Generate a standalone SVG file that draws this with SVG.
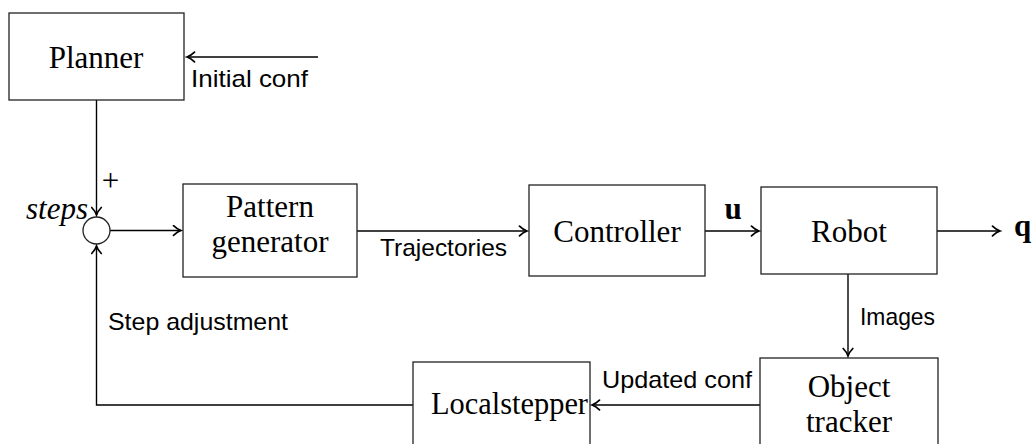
<svg xmlns="http://www.w3.org/2000/svg" width="1032" height="444" viewBox="0 0 1032 444">
<style>
.box{fill:#fff;stroke:#222;stroke-width:1.3}
.ln{fill:none;stroke:#000;stroke-width:1.4}
.rm{font-family:"Liberation Serif","DejaVu Serif",serif;font-size:31px;fill:#000}
.sf{font-family:"Liberation Sans","DejaVu Sans",sans-serif;font-size:24px;fill:#000}
</style>
<defs>
<marker id="arr" viewBox="-10 -6 12 12" refX="0" refY="0" markerWidth="12" markerHeight="12" orient="auto" markerUnits="userSpaceOnUse">
<path d="M-7.5,-4.8 C-4.8,-2.2 -2,-0.6 0,0 C-2,0.6 -4.8,2.2 -7.5,4.8" fill="none" stroke="#000" stroke-width="1.7" stroke-linecap="round"/>
</marker>
</defs>
<g id="connectors">
<path class="ln" d="M318,57 L187,57" marker-end="url(#arr)"/>
<path class="ln" d="M96.5,100 L96.5,215" marker-end="url(#arr)"/>
<path class="ln" d="M110,230.5 L181,230.5" marker-end="url(#arr)"/>
<path class="ln" d="M357,231 L527,231" marker-end="url(#arr)"/>
<path class="ln" d="M705,231 L759,231" marker-end="url(#arr)"/>
<path class="ln" d="M937,231 L1000,231" marker-end="url(#arr)"/>
<path class="ln" d="M848,274 L848,356" marker-end="url(#arr)"/>
<path class="ln" d="M760,405 L592,405" marker-end="url(#arr)"/>
<path class="ln" d="M413,405 L96.5,405 L96.5,246" marker-end="url(#arr)"/>
<text class="sf" x="191" y="87" textLength="117" lengthAdjust="spacingAndGlyphs">Initial conf</text>
<text class="rm" x="110.5" y="191" text-anchor="middle" font-size="36">+</text>
<text class="rm" x="26" y="219" font-style="italic" font-size="28">steps</text>
<text class="sf" x="380" y="256" textLength="127" lengthAdjust="spacingAndGlyphs">Trajectories</text>
<text class="rm" x="733" y="219" text-anchor="middle" font-weight="bold" font-size="29">u</text>
<text class="rm" x="1014" y="236" font-weight="bold" font-size="29">q</text>
<text class="sf" x="860" y="325" textLength="75" lengthAdjust="spacingAndGlyphs">Images</text>
<text class="sf" x="108" y="330" textLength="180" lengthAdjust="spacingAndGlyphs">Step adjustment</text>
<text class="sf" x="602" y="388" textLength="150" lengthAdjust="spacingAndGlyphs">Updated conf</text>
</g>
<g id="planner">
<rect class="box" x="9" y="13" width="175" height="87"/>
<text class="rm" x="96" y="68" text-anchor="middle">Planner</text>
</g>
<g id="sum">
<circle cx="96.5" cy="230.5" r="13.5" fill="#fff" stroke="#222" stroke-width="1.3"/>
</g>
<g id="pattern">
<rect class="box" x="183" y="184" width="174" height="93"/>
<text class="rm" x="270" y="217" text-anchor="middle">Pattern</text>
<text class="rm" x="270" y="252" text-anchor="middle">generator</text>
</g>
<g id="controller">
<rect class="box" x="529" y="185" width="176" height="91"/>
<text class="rm" x="617" y="242" text-anchor="middle">Controller</text>
</g>
<g id="robot">
<rect class="box" x="761" y="187" width="176" height="87"/>
<text class="rm" x="849" y="242" text-anchor="middle">Robot</text>
</g>
<g id="tracker">
<rect class="box" x="760" y="358" width="178" height="100"/>
<text class="rm" x="849" y="397" text-anchor="middle">Object</text>
<text class="rm" x="849" y="432" text-anchor="middle">tracker</text>
</g>
<g id="localstepper">
<rect class="box" x="413" y="362" width="177" height="100"/>
<text class="rm" x="431" y="414" textLength="157" lengthAdjust="spacingAndGlyphs">Localstepper</text>
</g>
</svg>
